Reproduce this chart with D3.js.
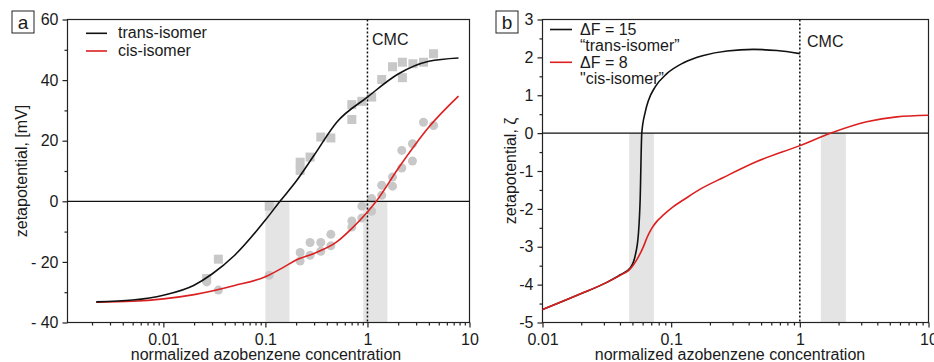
<!DOCTYPE html>
<html>
<head>
<meta charset="utf-8">
<script src="https://cdn.jsdelivr.net/npm/d3@7"></script>
<style>
  body { margin: 0; background: #fff; }
  svg { display: block; font-family: "Liberation Sans", Arial, sans-serif; }
  text { fill: #1a1a1a; }
</style>
</head>
<body>
<script>
// panel a: measured zeta potential and fits
const transFitX = [0.0022, 0.005, 0.01, 0.02, 0.03, 0.05, 0.1, 0.139, 0.2, 0.3, 0.5, 1, 2, 4, 7.8];
const transFitY = [-33.2, -32.6, -31, -27.7, -24, -17.8, -6.2, 0, 6.6, 15.2, 26.1, 34.4, 42, 46.2, 47.3];
const cisFitX = [0.0022, 0.005, 0.01, 0.02, 0.05, 0.1, 0.15, 0.2, 0.3, 0.5, 0.7, 1, 1.22, 2, 4, 7.8];
const cisFitY = [-33.3, -33.0, -32.2, -30.8, -27.8, -24.9, -21.8, -19.4, -17.2, -13.4, -9, -3.5, 0, 10.8, 24.5, 34.7];

const transPtsX = [0.0346, 0.0266, 0.109, 0.219, 0.219, 0.274, 0.349, 0.438, 0.703, 0.703, 0.881, 1.10, 1.38, 1.76, 2.20, 2.20, 2.79, 3.54, 4.44];
const transPtsY = [-19.1, -25.5, -1.6, 12.9, 10.2, 14.6, 21.2, 20.9, 31.9, 27.0, 33.0, 34.4, 40.2, 44.4, 45.9, 40.8, 45.4, 45.9, 48.7];
const cisPtsX = [0.0266, 0.0346, 0.109, 0.219, 0.219, 0.274, 0.274, 0.349, 0.349, 0.438, 0.438, 0.703, 0.703, 0.881, 0.881, 1.10, 1.10, 1.38, 1.38, 1.76, 1.76, 2.17, 2.17, 2.76, 2.76, 3.54, 4.44];
const cisPtsY = [-26.6, -29.3, -24.4, -16.9, -19.7, -13.6, -17.8, -13.6, -16.5, -10.9, -14.7, -6.5, -8.5, -1.6, -5.5, 0.9, -3.3, 5.3, 2.0, 8.0, 5.0, 16.8, 11.0, 19.0, 13.3, 26.1, 25.0];

const bandsA = [[0.1, 0.172], [0.91, 1.57]];
const yTicksA = [-40, -20, 0, 20, 40, 60];

// panel b: model curves
const df15X = [0.01, 0.0196, 0.0316, 0.0402, 0.048, 0.0524, 0.0557, 0.0574, 0.0591, 0.0628, 0.0667, 0.0751, 0.0925, 0.125, 0.178, 0.272, 0.436, 0.664, 1.0];
const df15Y = [-4.66, -4.25, -3.94, -3.74, -3.56, -3.25, -2.64, -1.76, 0, 0.55, 0.87, 1.22, 1.57, 1.86, 2.05, 2.17, 2.21, 2.18, 2.10];
const df8X = [0.01, 0.0196, 0.0316, 0.0425, 0.0466, 0.0541, 0.061, 0.0647, 0.0708, 0.0774, 0.0871, 0.104, 0.125, 0.168, 0.255, 0.463, 1.0, 1.77, 3.31, 5.67, 10];
const df8Y = [-4.66, -4.25, -3.94, -3.71, -3.63, -3.34, -2.99, -2.77, -2.51, -2.33, -2.16, -1.94, -1.76, -1.48, -1.17, -0.75, -0.33, 0.01, 0.30, 0.43, 0.47];

const bandsB = [[0.0472, 0.0734], [1.456, 2.28]];
const yTicksB = [-5, -4, -3, -2, -1, 0, 1, 2, 3];

const xTickLabels = [0.01, 0.1, 1, 10];
const RED = "#dc1f1f", PT = "#c8c8c8", BAND = "#e4e4e4";

const svg = d3.select("body").append("svg").attr("width", 934).attr("height", 362);

function zip(a, b) { return a.map((v, i) => [v, b[i]]); }

function panel(opt) {
  const x = d3.scaleLog().domain(opt.xDomain).range([opt.left, opt.right]);
  const y = d3.scaleLinear().domain(opt.yDomain).range([322.5, 19.5]);
  const g = svg.append("g");

  // grey bands from zero down
  g.selectAll(".band").data(opt.bands).enter().append("rect")
    .attr("x", d => x(d[0])).attr("width", d => x(d[1]) - x(d[0]))
    .attr("y", y(0)).attr("height", y(opt.yDomain[0]) - y(0))
    .attr("fill", BAND);

  // minor ticks
  const minorX = x.ticks().filter(t => !xTickLabels.includes(+t.toPrecision(3)));
  g.append("g").attr("transform", "translate(0,322.5)")
    .call(d3.axisBottom(x).tickValues(minorX).tickSize(3).tickFormat("").tickSizeOuter(0))
    .call(s => s.select(".domain").remove());
  g.append("g").attr("transform", `translate(${opt.left},0)`)
    .call(d3.axisLeft(y).tickValues(opt.yMinor).tickSize(3).tickFormat("").tickSizeOuter(0))
    .call(s => s.select(".domain").remove());

  // major ticks
  g.append("g").attr("transform", "translate(0,322.5)")
    .call(d3.axisBottom(x).tickValues(xTickLabels.filter(v => v >= opt.xDomain[0]))
      .tickSize(5).tickPadding(6).tickSizeOuter(0).tickFormat(d => String(d)))
    .call(s => s.select(".domain").remove());
  g.append("g").attr("transform", `translate(${opt.left},0)`)
    .call(d3.axisLeft(y).tickValues(opt.yTicks).tickSize(5).tickPadding(4).tickSizeOuter(0).tickFormat(opt.yFormat))
    .call(s => s.select(".domain").remove());
  g.selectAll(".tick line").attr("stroke", "#222").attr("stroke-width", 1.2);
  g.selectAll(".tick text").attr("font-size", 16).attr("font-family", "Liberation Sans, Arial, sans-serif").attr("fill", "#1a1a1a");

  // frame
  g.append("rect").attr("x", opt.left).attr("y", 19.5)
    .attr("width", opt.right - opt.left).attr("height", 303)
    .attr("fill", "none").attr("stroke", "#222").attr("stroke-width", 1.2);

  // axis titles
  g.append("text").attr("transform", `translate(${opt.yTitleX},171) rotate(-90)`)
    .attr("text-anchor", "middle").attr("dy", "0.35em").attr("font-size", 16).text(opt.yTitle);
  g.append("text").attr("x", opt.xTitleX).attr("y", 359.5)
    .attr("text-anchor", "middle").attr("font-size", 16).text("normalized azobenzene concentration");

  // panel letter
  g.append("rect").attr("x", opt.boxX).attr("y", 11).attr("width", 22).attr("height", 22)
    .attr("fill", "#fff").attr("stroke", "#222").attr("stroke-width", 1);
  g.append("text").attr("x", opt.boxX + 11).attr("y", 28.5).attr("text-anchor", "middle")
    .attr("font-size", 19).text(opt.letter);

  return { g, x, y };
}

// ---------- panel a ----------
const A = panel({
  left: 67.5, right: 469.5, xDomain: [0.00115, 10], yDomain: [-40, 60],
  yTicks: yTicksA, yMinor: [-30, -10, 10, 30, 50],
  yFormat: d => d < 0 ? "- " + Math.abs(d) : String(d),
  bands: bandsA, yTitle: "zetapotential, [mV]", yTitleX: 21, xTitleX: 266,
  boxX: 12, letter: "a"
});

A.g.selectAll(".sq").data(zip(transPtsX, transPtsY)).enter().append("rect")
  .attr("x", d => A.x(d[0]) - 4.5).attr("y", d => A.y(d[1]) - 4.5)
  .attr("width", 9).attr("height", 9).attr("fill", PT);
A.g.selectAll(".ci").data(zip(cisPtsX, cisPtsY)).enter().append("circle")
  .attr("cx", d => A.x(d[0])).attr("cy", d => A.y(d[1])).attr("r", 4.5).attr("fill", PT);

A.g.append("line").attr("x1", 67.5).attr("x2", 469.5).attr("y1", A.y(0)).attr("y2", A.y(0))
  .attr("stroke", "#111").attr("stroke-width", 1.2);
A.g.append("line").attr("x1", A.x(1)).attr("x2", A.x(1)).attr("y1", 19.5).attr("y2", 322.5)
  .attr("stroke", "#111").attr("stroke-width", 1.5).attr("stroke-dasharray", "2,2");

const lineA = d3.line().x(d => A.x(d[0])).y(d => A.y(d[1])).curve(d3.curveMonotoneX);
A.g.append("path").datum(zip(cisFitX, cisFitY)).attr("d", lineA)
  .attr("fill", "none").attr("stroke", RED).attr("stroke-width", 1.6);
A.g.append("path").datum(zip(transFitX, transFitY)).attr("d", lineA)
  .attr("fill", "none").attr("stroke", "#111").attr("stroke-width", 1.6);

A.g.append("text").attr("x", 372).attr("y", 45).attr("font-size", 16).text("CMC");

// legend a
[["trans-isomer", "#111", 33.3, 38], ["cis-isomer", RED, 51, 56]].forEach(d => {
  A.g.append("line").attr("x1", 86).attr("x2", 107).attr("y1", d[2]).attr("y2", d[2])
    .attr("stroke", d[1]).attr("stroke-width", 1.6);
  A.g.append("text").attr("x", 118).attr("y", d[3]).attr("font-size", 16).text(d[0]);
});

// ---------- panel b ----------
const B = panel({
  left: 542.5, right: 928.5, xDomain: [0.01, 10], yDomain: [-5, 3],
  yTicks: yTicksB, yMinor: [-4.5, -3.5, -2.5, -1.5, -0.5, 0.5, 1.5, 2.5],
  yFormat: d => String(d),
  bands: bandsB, yTitle: "zetapotential, \u03B6", yTitleX: 510, xTitleX: 730,
  boxX: 496, letter: "b"
});

B.g.append("line").attr("x1", 542.5).attr("x2", 928.5).attr("y1", B.y(0)).attr("y2", B.y(0))
  .attr("stroke", "#111").attr("stroke-width", 1.2);
B.g.append("line").attr("x1", B.x(1)).attr("x2", B.x(1)).attr("y1", 19.5).attr("y2", 322.5)
  .attr("stroke", "#111").attr("stroke-width", 1.5).attr("stroke-dasharray", "2,2");

const lineB = d3.line().x(d => B.x(d[0])).y(d => B.y(d[1])).curve(d3.curveMonotoneX);
B.g.append("path").datum(zip(df15X, df15Y)).attr("d", lineB)
  .attr("fill", "none").attr("stroke", "#111").attr("stroke-width", 1.6);
B.g.append("path").datum(zip(df8X, df8Y)).attr("d", lineB)
  .attr("fill", "none").attr("stroke", RED).attr("stroke-width", 1.6);

B.g.append("text").attr("x", 807).attr("y", 46.5).attr("font-size", 16).text("CMC");

// legend b
[["\u0394F = 15", "\u201Ctrans-isomer\u201D", "#111", 29.5, 35], ["\u0394F = 8", "\"cis-isomer\u201D", RED, 62.3, 67.5]].forEach(d => {
  B.g.append("line").attr("x1", 550).attr("x2", 572).attr("y1", d[3]).attr("y2", d[3])
    .attr("stroke", d[2]).attr("stroke-width", 1.6);
  B.g.append("text").attr("x", 580).attr("y", d[4]).attr("font-size", 16).text(d[0]);
  B.g.append("text").attr("x", 580).attr("y", d[4] + 16.3).attr("font-size", 16).text(d[1]);
});
</script>
</body>
</html>
